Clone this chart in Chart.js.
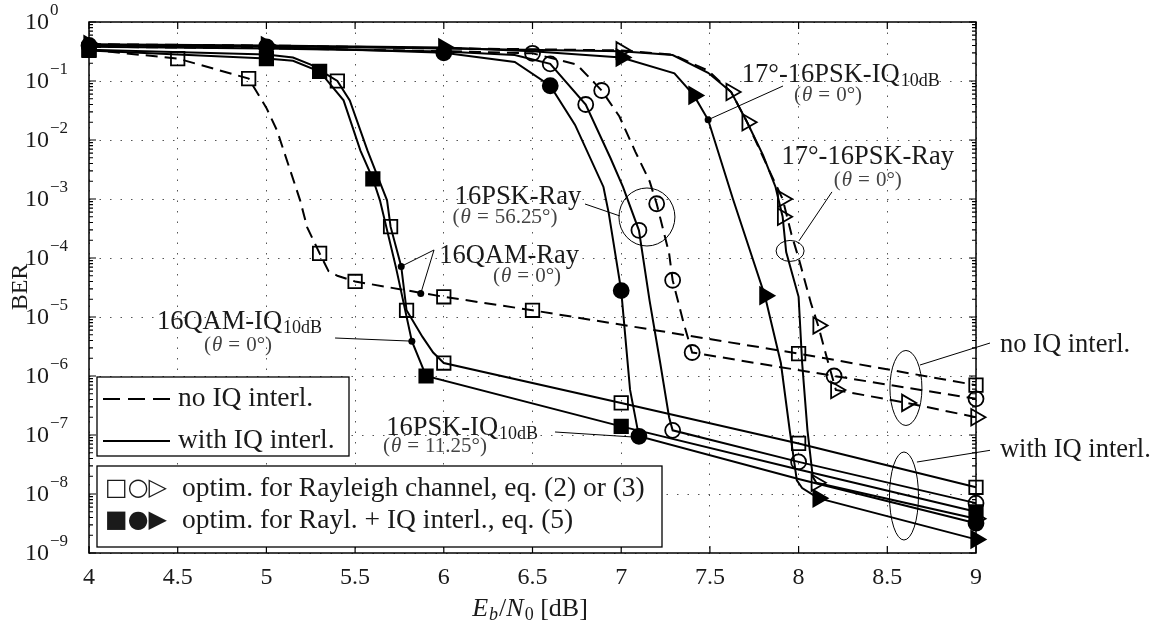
<!DOCTYPE html>
<html>
<head>
<meta charset="utf-8">
<script src="https://cdn.jsdelivr.net/npm/chart.js@4.4.1/dist/chart.umd.min.js"></script>
<style>
  html, body { margin: 0; padding: 0; background: #fff; }
  #wrap { width: 1173px; height: 629px; }
</style>
</head>
<body>
<div id="wrap"><canvas id="ber" width="1173" height="629"></canvas></div>
<script>
// axis ticks
var xTickValues = [4, 4.5, 5, 5.5, 6, 6.5, 7, 7.5, 8, 8.5, 9];
var xTickLabels = ['4', '4.5', '5', '5.5', '6', '6.5', '7', '7.5', '8', '8.5', '9'];
var yTickExps = [0, -1, -2, -3, -4, -5, -6, -7, -8, -9];

// 16QAM-Ray, no IQ interleaving (dashed, open squares)
var qamRayNoIqX = [4, 4.5, 4.9, 5.0, 5.06, 5.19, 5.23, 5.3, 5.35, 5.4, 5.5, 6.0, 6.5, 8.0, 9.0];
var qamRayNoIqY = [0.34, 0.24, 0.11, 0.035, 0.0145, 9.5e-4, 3.3e-4, 1.2e-4, 6e-5, 5e-5, 4e-5, 2.2e-5, 1.3e-5, 2.4e-6, 7e-7];
var qamRayNoIqM = [1, 1, 1, 0, 0, 0, 0, 1, 0, 0, 1, 1, 1, 1, 1];

// 16QAM-Ray, with IQ interleaving (solid, open squares)
var qamRayIqX = [4, 5, 5.15, 5.25, 5.4, 5.47, 5.57, 5.68, 5.70, 5.76, 5.79, 5.88, 5.94, 6.0, 7.0, 8.0, 9.0];
var qamRayIqY = [0.34, 0.28, 0.25, 0.19, 0.1, 0.047, 6.6e-3, 9.5e-4, 3.4e-4, 7.2e-5, 1.3e-5, 4.6e-6, 2.5e-6, 1.66e-6, 3.5e-7, 7.2e-8, 1.3e-8];
var qamRayIqM = [0, 0, 0, 0, 1, 0, 0, 0, 1, 0, 1, 0, 0, 1, 1, 1, 1];

// 16QAM-IQ10dB, with IQ interleaving (solid, filled squares)
var qamIqX = [4, 5, 5.15, 5.3, 5.435, 5.53, 5.6, 5.64, 5.73, 5.82, 5.9, 7.0, 8.0, 9.0];
var qamIqY = [0.33, 0.24, 0.22, 0.145, 0.047, 6.6e-3, 2.2e-3, 9.5e-4, 7e-5, 3.9e-6, 1e-6, 1.4e-7, 2.6e-8, 5e-9];
var qamIqM = [1, 1, 0, 1, 0, 0, 1, 0, 0, 0, 1, 1, 0, 1];

// 16PSK-Ray, no IQ interleaving (dashed, open circles)
var pskRayNoIqX = [4, 5, 6, 6.5, 6.75, 6.89, 6.99, 7.08, 7.16, 7.2, 7.27, 7.29, 7.35, 7.4, 8.2, 9.0];
var pskRayNoIqY = [0.38, 0.36, 0.32, 0.295, 0.19, 0.069, 0.025, 6.3e-3, 2e-3, 8.3e-4, 1.2e-4, 4.2e-5, 8.3e-6, 2.5e-6, 1e-6, 4.1e-7];
var pskRayNoIqM = [0, 0, 0, 1, 0, 1, 0, 0, 0, 1, 0, 1, 0, 1, 1, 1];

// 16PSK-Ray, with IQ interleaving (solid, open circles)
var pskRayIqX = [4, 5, 6, 6.4, 6.6, 6.8, 6.94, 7.01, 7.1, 7.16, 7.22, 7.27, 7.29, 8.0, 9.0];
var pskRayIqY = [0.38, 0.355, 0.316, 0.275, 0.195, 0.04, 4.9e-3, 1.6e-3, 2.95e-4, 1.9e-5, 1.66e-6, 2e-7, 1.2e-7, 3.5e-8, 7e-9];
var pskRayIqM = [0, 0, 0, 0, 1, 1, 0, 0, 1, 0, 0, 0, 1, 1, 1];

// 16PSK-IQ10dB, with IQ interleaving (solid, filled circles)
var pskIqX = [4, 5, 6, 6.4, 6.6, 6.74, 6.9, 6.93, 7.0, 7.05, 7.1, 8.0, 9.0];
var pskIqY = [0.4, 0.38, 0.30, 0.21, 0.083, 0.018, 1.6e-3, 5.7e-4, 2.8e-5, 5.8e-7, 9.5e-8, 1.8e-8, 3.2e-9];
var pskIqM = [1, 1, 1, 0, 1, 0, 0, 0, 1, 0, 1, 0, 1];

// 17deg-16PSK-Ray, no IQ interleaving (dashed, open triangles)
var triRayNoIqX = [4, 5, 6, 7, 7.29, 7.49, 7.62, 7.71, 7.84, 7.91, 7.96, 8.0, 8.07, 8.11, 8.16, 8.21, 8.61, 9.0];
var triRayNoIqY = [0.42, 0.4, 0.36, 0.33, 0.28, 0.15, 0.065, 0.02, 2.8e-3, 1e-3, 2.5e-4, 1e-4, 1.7e-5, 7.2e-6, 2e-6, 5.8e-7, 3.5e-7, 2e-7];
var triRayNoIqM = [0, 0, 0, 1, 0, 0, 0, 1, 0, 1, 0, 0, 0, 1, 0, 1, 1, 1];

// 17deg-16PSK-Ray, with IQ interleaving (solid, open triangles)
var triRayIqX = [4, 5, 6, 7, 7.29, 7.49, 7.62, 7.71, 7.80, 7.87, 7.91, 7.93, 8.0, 8.02, 8.05, 8.08, 8.1, 9.0];
var triRayIqY = [0.41, 0.39, 0.355, 0.32, 0.275, 0.138, 0.065, 0.02, 5.5e-3, 1.6e-3, 5e-4, 1.26e-4, 2.2e-5, 1.66e-6, 1.2e-7, 1.95e-8, 1.55e-8, 3.8e-9];
var triRayIqM = [0, 0, 0, 0, 0, 0, 1, 0, 0, 0, 1, 0, 0, 0, 0, 0, 1, 1];

// 17deg-16PSK-IQ10dB, with IQ interleaving (solid, filled triangles)
var triIqX = [4, 5, 6, 6.5, 7, 7.3, 7.41, 7.49, 7.63, 7.81, 7.90, 7.95, 7.99, 8.02, 8.11, 9.0];
var triIqY = [0.42, 0.4, 0.37, 0.32, 0.25, 0.135, 0.057, 0.022, 1e-3, 2.3e-5, 1.66e-6, 1.2e-7, 1.7e-8, 1.26e-8, 8.5e-9, 1.7e-9];
var triIqM = [1, 1, 1, 0, 1, 0, 1, 0, 0, 1, 0, 0, 0, 0, 1, 1];

// small dots that the annotation leaders point at
var dotX = [7.49, 5.76, 5.87, 5.82];
var dotY = [0.022, 7.2e-5, 2.5e-5, 3.9e-6];

var SERIF = '"Liberation Serif", "Times New Roman", serif';
var INK = '#1a1a1a';
var markerSize = { rect: 9.5, circle: 7.5, triangle: 9.5 };

function font(size, style) {
    return (style ? style + ' ' : '') + size + 'px ' + SERIF;
}

function curve(xs, ys, marks, shape, filled, dashed) {
    return {
        data: xs.map(function (x, i) { return { x: x, y: ys[i] }; }),
        borderColor: '#000',
        borderWidth: 2,
        borderDash: dashed ? [12, 7] : [],
        pointStyle: shape,
        pointRotation: shape === 'triangle' ? 90 : 0,
        pointRadius: marks.map(function (m) { return m ? markerSize[shape] : 0; }),
        pointBackgroundColor: filled ? '#000' : 'rgba(0,0,0,0)',
        pointBorderColor: '#000',
        pointBorderWidth: 1.8,
        tension: 0,
        fill: false,
        clip: false
    };
}

// draw a row of text pieces: [text, font, dy, gapBefore]
function drawRuns(ctx, runs, x, y, align) {
    var total = 0;
    runs.forEach(function (r) {
        ctx.font = r[1];
        r.w = ctx.measureText(r[0]).width;
        total += r.w + (r[3] || 0);
    });
    var cx = align === 'center' ? x - total / 2 : (align === 'right' ? x - total : x);
    ctx.textAlign = 'left';
    ctx.textBaseline = 'middle';
    runs.forEach(function (r) {
        cx += (r[3] || 0);
        ctx.font = r[1];
        ctx.fillText(r[0], cx, y + (r[2] || 0));
        cx += r.w;
    });
}

function thetaRuns(val) {
    return [['(', font(21)], ['\u03b8', font(21, 'italic'), 0, 1], ['=', font(21), 0, 6], [val + '\u00b0)', font(21), 0, 6]];
}

function labelRuns(main, sub) {
    var r = [[main, font(26.5)]];
    if (sub) r.push([sub, font(18), 6, 1]);
    return r;
}

// annotation labels, leaders and ellipses, in data coordinates (x in dB, y as log10 BER)
var annotations = [
    { text: labelRuns('17\u00b0-16PSK-IQ', '10dB'), at: [7.68, -0.90], align: 'left',
      theta: '0', thetaAt: [8.166, -1.25], leader: [[7.912, -1.085], [7.49, -1.657]] },
    { text: labelRuns('17\u00b0-16PSK-Ray'), at: [8.39, -2.29], align: 'center',
      theta: '0', thetaAt: [8.39, -2.68], leader: [[8.188, -2.88], [8.002, -3.71]],
      ellipse: [7.952, -3.88, 14, 10.5] },
    { text: labelRuns('16PSK-Ray'), at: [6.418, -2.97], align: 'center',
      theta: '56.25', thetaAt: [6.345, -3.32], leader: [[6.796, -3.085], [6.993, -3.288]],
      ellipse: [7.145, -3.305, 28, 29] },
    { text: labelRuns('16QAM-Ray'), at: [6.368, -3.97], align: 'center',
      theta: '0', thetaAt: [6.469, -4.32], leader: [[5.76, -4.142], [5.945, -3.864], [5.87, -4.602]] },
    { text: labelRuns('16QAM-IQ', '10dB'), at: [4.383, -5.085], align: 'left',
      theta: '0', thetaAt: [4.84, -5.475], leader: [[5.387, -5.356], [5.82, -5.409]] },
    { text: labelRuns('16PSK-IQ', '10dB'), at: [5.675, -6.88], align: 'left',
      theta: '11.25', thetaAt: [5.95, -7.2], leader: [[6.627, -6.949], [7.067, -7.034]] },
    { text: labelRuns('no IQ interl.'), at: [9.135, -5.475], align: 'left',
      leader: [[9.079, -5.441], [8.684, -5.814]], ellipse: [8.605, -6.203, 16, 37.5] },
    { text: labelRuns('with IQ interl.'), at: [9.135, -7.254], align: 'left',
      leader: [[9.079, -7.26], [8.667, -7.458]], ellipse: [8.594, -8.034, 14.5, 44] }
];

var figurePlugin = {
    id: 'figure',
    afterDatasetsDraw: function (chart) {
        var ctx = chart.ctx;
        var xs = chart.scales.x, ys = chart.scales.y, a = chart.chartArea;
        var px = function (v) { return xs.getPixelForValue(v); };
        var py = function (e) { return ys.getPixelForValue(Math.pow(10, e)); };

        ctx.save();
        ctx.setLineDash([]);
        ctx.strokeStyle = '#000';

        // axis box
        ctx.lineWidth = 1.5;
        ctx.strokeRect(a.left, a.top, a.right - a.left, a.bottom - a.top);

        // inward ticks
        ctx.lineWidth = 1.2;
        ctx.beginPath();
        xTickValues.forEach(function (v) {
            var x = px(v);
            ctx.moveTo(x, a.bottom); ctx.lineTo(x, a.bottom - 7);
            ctx.moveTo(x, a.top); ctx.lineTo(x, a.top + 7);
        });
        yTickExps.forEach(function (e) {
            var y = py(e);
            ctx.moveTo(a.left, y); ctx.lineTo(a.left + 7, y);
            ctx.moveTo(a.right, y); ctx.lineTo(a.right - 7, y);
            if (e < 0) {
                for (var k = 2; k <= 9; k++) {
                    var ym = ys.getPixelForValue(k * Math.pow(10, e));
                    ctx.moveTo(a.left, ym); ctx.lineTo(a.left + 4, ym);
                    ctx.moveTo(a.right, ym); ctx.lineTo(a.right - 4, ym);
                }
            }
        });
        ctx.stroke();

        // tick labels
        ctx.fillStyle = INK;
        ctx.font = font(24);
        ctx.textAlign = 'center';
        ctx.textBaseline = 'middle';
        xTickValues.forEach(function (v, i) {
            ctx.fillText(xTickLabels[i], px(v), a.bottom + 25);
        });
        yTickExps.forEach(function (e) {
            var y = py(e);
            ctx.font = font(24);
            ctx.textAlign = 'right';
            ctx.fillText('10', 49, y + 1);
            ctx.font = font(17);
            ctx.textAlign = 'left';
            ctx.fillText(e === 0 ? '0' : '\u2212' + (-e), 50, y - 11);
        });

        // axis titles
        drawRuns(ctx, [['E', font(26, 'italic')], ['b', font(18, 'italic'), 6, 1], ['/', font(26), 0, 1],
            ['N', font(26, 'italic')], ['0', font(18), 6, 1], [' [dB]', font(26)]], 530, 609, 'center');
        ctx.save();
        ctx.translate(21, 287);
        ctx.rotate(-Math.PI / 2);
        ctx.font = font(24);
        ctx.textAlign = 'center';
        ctx.textBaseline = 'middle';
        ctx.fillText('BER', 0, 0);
        ctx.restore();

        // annotations
        annotations.forEach(function (an) {
            ctx.strokeStyle = '#000';
            ctx.lineWidth = 1;
            if (an.leader) {
                ctx.beginPath();
                an.leader.forEach(function (p, i) {
                    if (i === 0) ctx.moveTo(px(p[0]), py(p[1])); else ctx.lineTo(px(p[0]), py(p[1]));
                });
                ctx.stroke();
            }
            if (an.ellipse) {
                ctx.beginPath();
                ctx.ellipse(px(an.ellipse[0]), py(an.ellipse[1]), an.ellipse[2], an.ellipse[3], 0, 0, Math.PI * 2);
                ctx.stroke();
            }
            ctx.fillStyle = INK;
            drawRuns(ctx, an.text, px(an.at[0]), py(an.at[1]), an.align);
            if (an.theta) {
                ctx.fillStyle = '#444';
                drawRuns(ctx, thetaRuns(an.theta), px(an.thetaAt[0]), py(an.thetaAt[1]), 'center');
            }
        });

        // legend boxes
        ctx.fillStyle = '#fff';
        ctx.strokeStyle = '#000';
        ctx.lineWidth = 1.3;
        ctx.fillRect(97, 377, 252, 79);
        ctx.strokeRect(97, 377, 252, 79);
        ctx.fillRect(97, 466, 565, 81);
        ctx.strokeRect(97, 466, 565, 81);

        ctx.lineWidth = 2;
        ctx.setLineDash([17, 8]);
        ctx.beginPath(); ctx.moveTo(103, 399); ctx.lineTo(170, 399); ctx.stroke();
        ctx.setLineDash([]);
        ctx.beginPath(); ctx.moveTo(103, 441); ctx.lineTo(170, 441); ctx.stroke();

        ctx.fillStyle = INK;
        drawRuns(ctx, [['no IQ interl.', font(27.5)]], 178, 399, 'left');
        drawRuns(ctx, [['with IQ interl.', font(27.5)]], 178, 441, 'left');
        drawRuns(ctx, [['\u25a1\u25cb\u25b7', '24px "DejaVu Sans"']], 105, 489, 'left');
        drawRuns(ctx, [['optim. for Rayleigh channel, eq. (2) or (3)', font(27.5)]], 182, 489, 'left');
        drawRuns(ctx, [['\u25a0\u25cf\u25b6', '24px "DejaVu Sans"']], 105, 521, 'left');
        drawRuns(ctx, [['optim. for Rayl. + IQ interl., eq. (5)', font(27.5)]], 182, 521, 'left');

        ctx.restore();
    }
};

var datasets = [
    curve(qamRayNoIqX, qamRayNoIqY, qamRayNoIqM, 'rect', false, true),
    curve(qamRayIqX, qamRayIqY, qamRayIqM, 'rect', false, false),
    curve(qamIqX, qamIqY, qamIqM, 'rect', true, false),
    curve(pskRayNoIqX, pskRayNoIqY, pskRayNoIqM, 'circle', false, true),
    curve(pskRayIqX, pskRayIqY, pskRayIqM, 'circle', false, false),
    curve(pskIqX, pskIqY, pskIqM, 'circle', true, false),
    curve(triRayNoIqX, triRayNoIqY, triRayNoIqM, 'triangle', false, true),
    curve(triRayIqX, triRayIqY, triRayIqM, 'triangle', false, false),
    curve(triIqX, triIqY, triIqM, 'triangle', true, false),
    {
        data: dotX.map(function (x, i) { return { x: x, y: dotY[i] }; }),
        showLine: false,
        pointStyle: 'circle',
        pointRadius: 3.5,
        pointBackgroundColor: '#000',
        pointBorderColor: '#000',
        pointBorderWidth: 0,
        clip: false
    }
];

new Chart(document.getElementById('ber'), {
    type: 'line',
    data: { datasets: datasets },
    options: {
        responsive: false,
        animation: false,
        devicePixelRatio: 1,
        events: [],
        layout: { padding: { left: 0, top: 22, right: 197, bottom: 0 } },
        plugins: { legend: { display: false }, tooltip: { enabled: false } },
        scales: {
            x: {
                type: 'linear',
                min: 4,
                max: 9,
                afterBuildTicks: function (s) { s.ticks = xTickValues.map(function (v) { return { value: v }; }); },
                afterFit: function (s) { s.height = 76; },
                ticks: { display: false },
                grid: { color: '#555', lineWidth: 1, drawTicks: false },
                border: { display: false, dash: [1.5, 9] }
            },
            y: {
                type: 'logarithmic',
                min: 1e-9,
                max: 1,
                afterBuildTicks: function (s) { s.ticks = yTickExps.map(function (e) { return { value: Math.pow(10, e) }; }); },
                afterFit: function (s) { s.width = 89; },
                ticks: { display: false },
                grid: { color: '#555', lineWidth: 1, drawTicks: false },
                border: { display: false, dash: [1.5, 9] }
            }
        }
    },
    plugins: [figurePlugin]
});
</script>
</body>
</html>
